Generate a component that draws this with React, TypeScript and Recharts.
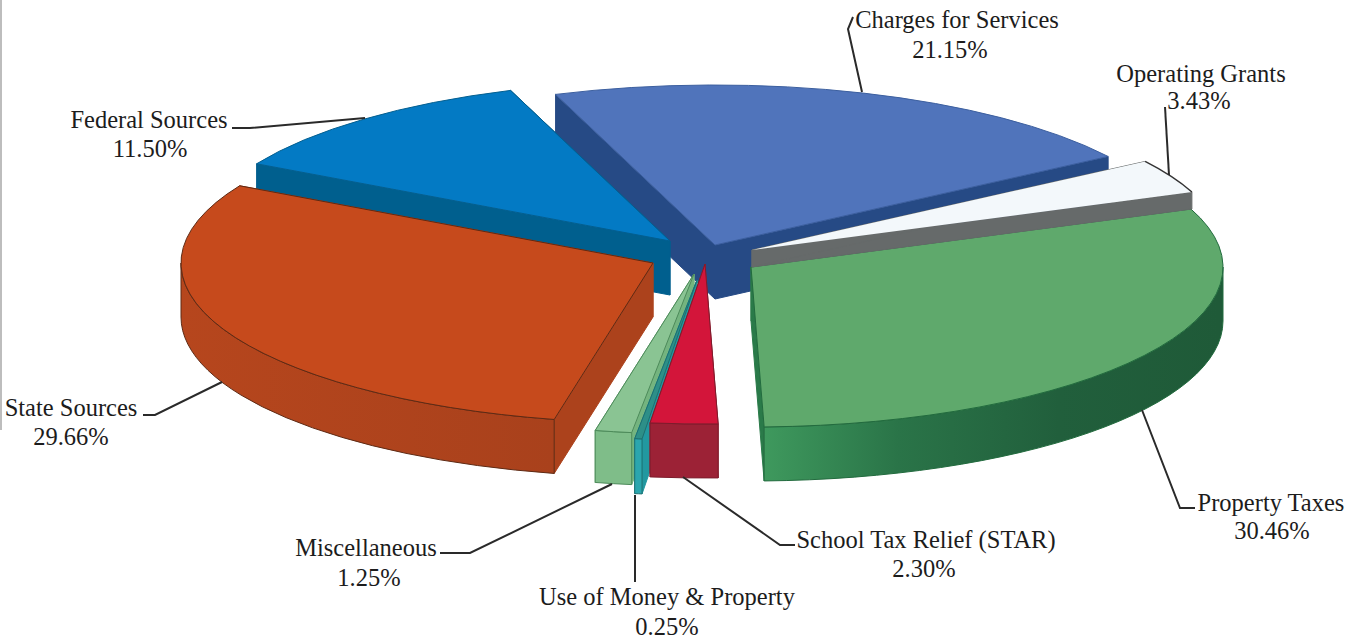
import React from "react";
import { PieChart, Pie } from "recharts";

const sliceNames = ["Charges for Services", "Federal Sources", "State Sources", "Miscellaneous", "Use of Money & Property", "School Tax Relief (STAR)", "Property Taxes", "Operating Grants"];
const sliceShares = [21.15, 11.5, 29.66, 1.25, 0.25, 2.3, 30.46, 3.43];
const rows = sliceNames.map((name, i) => ({ name, value: sliceShares[i] }));

const W = 1355, H = 639, BASE_X = 700, BASE_Y = 260, RX = 472, FLAT = 0.339;

type Look = { dx: number; dy: number; depth: number; top: string; rim: string; cut: string; line: string };
const looks: Record<string, Look> = {
  "Charges for Services": { dx: 15, dy: -15, depth: 54, top: "#5074bb", rim: "#234a88", cut: "#264a85", line: "#3c5f9f" },
  "Federal Sources": { dx: -30, dy: -19, depth: 54, top: "#037ac4", rim: "#005d8c", cut: "#005f8e", line: "#035f90" },
  "State Sources": { dx: -47, dy: 3, depth: 54, top: "#c64a1c", rim: "url(#rimState)", cut: "#ac421c", line: "#5e2a14" },
  "Miscellaneous": { dx: -6, dy: 14, depth: 52, top: "#8ac493", rim: "#7fbd89", cut: "#74b47f", line: "#4d8a5a" },
  "Use of Money & Property": { dx: -3, dy: 20, depth: 55, top: "#2d8f88", rim: "#2ba6ae", cut: "#2298a0", line: "#1d6f70" },
  "School Tax Relief (STAR)": { dx: 5, dy: 4, depth: 54, top: "#d3153a", rim: "#9c2236", cut: "#9c2236", line: "#7d1c2c" },
  "Property Taxes": { dx: 51, dy: 7, depth: 54, top: "#5fa96c", rim: "url(#rimProperty)", cut: "#2a7a49", line: "#226b3e" },
  "Operating Grants": { dx: 52, dy: -10, depth: 17, top: "#f3f8fb", rim: "#666a6a", cut: "#666a6a", line: "#555555" },
};

type Note = { x1: number; x2: number; y1: number; y2: number; leader: string };
const notes: Record<string, Note> = {
  "Charges for Services": { x1: 957, x2: 950, y1: 28, y2: 58, leader: "853,17 848,29 862,92" },
  "Federal Sources": { x1: 149, x2: 150, y1: 128, y2: 157, leader: "232,128 250,128 365,118" },
  "State Sources": { x1: 71, x2: 71, y1: 416, y2: 445, leader: "143,415 155,415 222,382" },
  "Miscellaneous": { x1: 366, x2: 369, y1: 556, y2: 586, leader: "612,484 470,553 440,553" },
  "Use of Money & Property": { x1: 667, x2: 667, y1: 605, y2: 635, leader: "635,495 635,582" },
  "School Tax Relief (STAR)": { x1: 926, x2: 924, y1: 548, y2: 577, leader: "683,477 780,545 795,545" },
  "Property Taxes": { x1: 1271, x2: 1272, y1: 511, y2: 539, leader: "1142,410 1180,508 1195,508" },
  "Operating Grants": { x1: 1201, x2: 1199, y1: 82, y2: 109, leader: "1165,107 1169,175" },
};

const pt = (cx: number, cy: number, r: number, deg: number) => {
  const a = (deg * Math.PI) / 180;
  return [cx + r * Math.cos(a), cy - r * FLAT * Math.sin(a)];
};

function Slice(props: any) {
  const { name, startAngle, endAngle, cx, cy, outerRadius: r } = props;
  const look = looks[name];
  if (!look) return null;
  const x = cx + look.dx, y = cy + look.dy, ry = r * FLAT, d = look.depth;
  const a0 = Math.min(startAngle, endAngle), a1 = Math.max(startAngle, endAngle);
  const [sx, sy] = pt(x, y, r, startAngle);
  const [ex, ey] = pt(x, y, r, endAngle);
  const sweep = endAngle > startAngle ? 0 : 1;
  const top = `M${x},${y} L${sx},${sy} A${r},${ry} 0 0 ${sweep} ${ex},${ey} Z`;
  const cutA = `M${x},${y} L${sx},${sy} L${sx},${sy + d} L${x},${y + d} Z`;
  const cutB = `M${x},${y} L${ex},${ey} L${ex},${ey + d} L${x},${y + d} Z`;
  const rims: string[] = [];
  [[180, 360], [540, 720]].forEach(([lo, hi]) => {
    const f = Math.max(a0, lo), t = Math.min(a1, hi);
    if (t > f) {
      const [fx, fy] = pt(x, y, r, f);
      const [tx, ty] = pt(x, y, r, t);
      rims.push(`M${fx},${fy} A${r},${ry} 0 0 0 ${tx},${ty} L${tx},${ty + d} A${r},${ry} 0 0 1 ${fx},${fy + d} Z`);
    }
  });
  return (
    <g>
      <defs>
        <linearGradient id="rimProperty" gradientUnits="userSpaceOnUse" x1="760" y1="0" x2="1220" y2="0">
          <stop offset="0" stopColor="#3f9a5e" />
          <stop offset="0.3" stopColor="#2a7448" />
          <stop offset="0.65" stopColor="#215f3c" />
          <stop offset="1" stopColor="#1f5a38" />
        </linearGradient>
        <linearGradient id="rimState" gradientUnits="userSpaceOnUse" x1="180" y1="0" x2="555" y2="0">
          <stop offset="0" stopColor="#b6461d" />
          <stop offset="1" stopColor="#a9411c" />
        </linearGradient>
      </defs>
      <path d={cutA} fill={look.cut} stroke={look.cut} strokeWidth={1} />
      <path d={cutB} fill={look.cut} stroke={look.cut} strokeWidth={1} />
      {rims.map((p, i) => (
        <path key={i} d={p} fill={look.rim} stroke={look.line} strokeWidth={1} />
      ))}
      <path d={top} fill={look.top} stroke={look.line} strokeWidth={name === "Operating Grants" ? 0 : 1} />
      {name === "Operating Grants" && (
        <path d={`M${sx},${sy} A${r},${ry} 0 0 ${sweep} ${ex},${ey}`} fill="none" stroke="#333" strokeWidth={1.5} />
      )}
    </g>
  );
}

function Callout(props: any) {
  const { name, value } = props;
  const n = notes[name];
  if (!n) return null;
  const style = { fontFamily: "'Liberation Serif', serif", fontSize: 24.5, fill: "#1c1c1c" };
  return (
    <g>
      <polyline points={n.leader} fill="none" stroke="#2a2a2a" strokeWidth={2} />
      <text x={n.x1} y={n.y1} textAnchor="middle" style={style}>{name}</text>
      <text x={n.x2} y={n.y2} textAnchor="middle" style={style}>{`${Number(value).toFixed(2)}%`}</text>
    </g>
  );
}

export default function App() {
  return (
    <div style={{ position: "absolute", left: 0, top: 0, width: W, height: H, background: "#fff" }}>
      <div style={{ position: "absolute", left: 0, top: 0, width: 2, height: 430, background: "#bdbdbd" }} />
      <PieChart width={W} height={H} margin={{ top: 0, right: 0, bottom: 0, left: 0 }}>
        <Pie
          data={rows}
          dataKey="value"
          nameKey="name"
          cx={BASE_X}
          cy={BASE_Y}
          innerRadius={0}
          outerRadius={RX}
          startAngle={33.6}
          endAngle={393.6}
          stroke="none"
          shape={Slice}
          label={Callout}
          labelLine={false}
          isAnimationActive={false}
        />
      </PieChart>
    </div>
  );
}
